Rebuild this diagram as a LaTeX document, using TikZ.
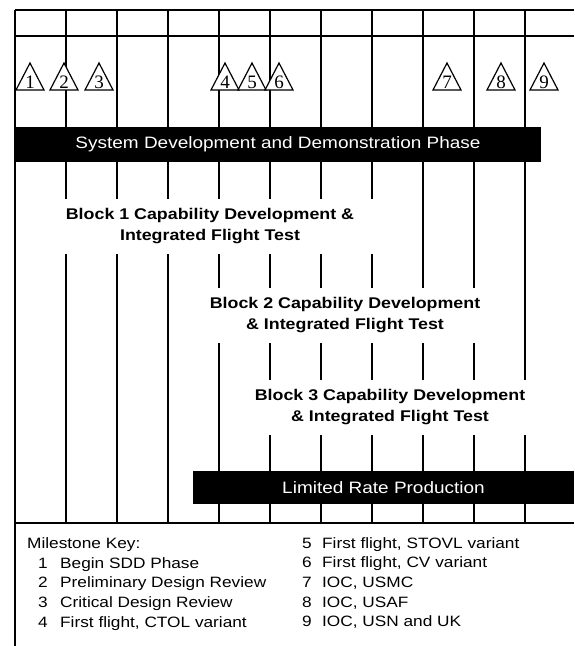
\documentclass[tikz,border=0pt]{standalone}
\usepackage{fontspec}
\setmainfont{Liberation Sans}[FakeStretch=1.15]
\newfontfamily\numfont{Liberation Serif}
\usepackage{tikz}
\newcommand{\mstone}[2]{\draw[line width=1.2pt, fill=white] (#1-14,-90) -- (#1,-63) -- (#1+14,-90) -- cycle; \node[num] (m#2) at (#1,-88) {#2};}

\begin{document}
\begin{tikzpicture}[x=1pt,y=1pt,
  gridline/.style={line width=1.2pt},
  bar/.style={fill=black, text=white, inner sep=0pt, font=\fontsize{16.5}{20}\selectfont},
  block/.style={fill=white, inner sep=0pt, minimum height=55pt, align=center, font=\bfseries\fontsize{15.5}{20.5}\selectfont},
  key/.style={anchor=base west, inner sep=0pt, font=\fontsize{15}{18}\selectfont},
  num/.style={anchor=base, inner sep=0pt, font=\numfont\fontsize{19}{20}\selectfont}]
\useasboundingbox (0,0) rectangle (574,-646);
% grid
\draw[gridline] (15,-10) -- (574,-10) (15,-36) -- (574,-36) (15,-523) -- (574,-523);
\draw[gridline] (15,-10) -- (15,-646);
\foreach \x in {66,117,...,525} \draw[gridline] (\x,-10) -- (\x,-523);
% phases
\node[bar, minimum width=526pt, minimum height=35pt] (sdd) at (278,-144.5) {System Development and Demonstration Phase};
\node[bar, minimum width=381pt, minimum height=33pt] (lrp) at (383.5,-487.5) {Limited Rate Production};
\node[block, minimum width=340pt] (blk1) at (210,-226) {Block 1 Capability Development \&\\Integrated Flight Test};
\node[block, minimum width=300pt] (blk2) at (345,-315) {Block 2 Capability Development\\\& Integrated Flight Test};
\node[block, minimum width=300pt] (blk3) at (390,-407) {Block 3 Capability Development\\\& Integrated Flight Test};
% milestones
\mstone{30}{1} \mstone{64}{2} \mstone{99}{3}
\mstone{225}{4} \mstone{252}{5} \mstone{279}{6}
\mstone{447}{7} \mstone{501}{8} \mstone{544}{9}
% key
\node[key] (keyhd) at (27,-548) {Milestone Key:};
\foreach \n/\t [count=\i from 0] in {1/Begin SDD Phase, 2/Preliminary Design Review, 3/Critical Design Review, 4/{First flight, CTOL variant}} {
  \node[key] (kn\n) at (38,-568-19.7*\i) {\n};
  \node[key] (kt\n) at (60,-568-19.7*\i) {\t};
}
\foreach \n/\t [count=\i from 0] in {5/{First flight, STOVL variant}, 6/{First flight, CV variant}, 7/{IOC, USMC}, 8/{IOC, USAF}, 9/{IOC, USN and UK}} {
  \node[key] (kn\n) at (302,-548-19.7*\i) {\n};
  \node[key] (kt\n) at (322,-548-19.7*\i) {\t};
}
\end{tikzpicture}
\end{document}
